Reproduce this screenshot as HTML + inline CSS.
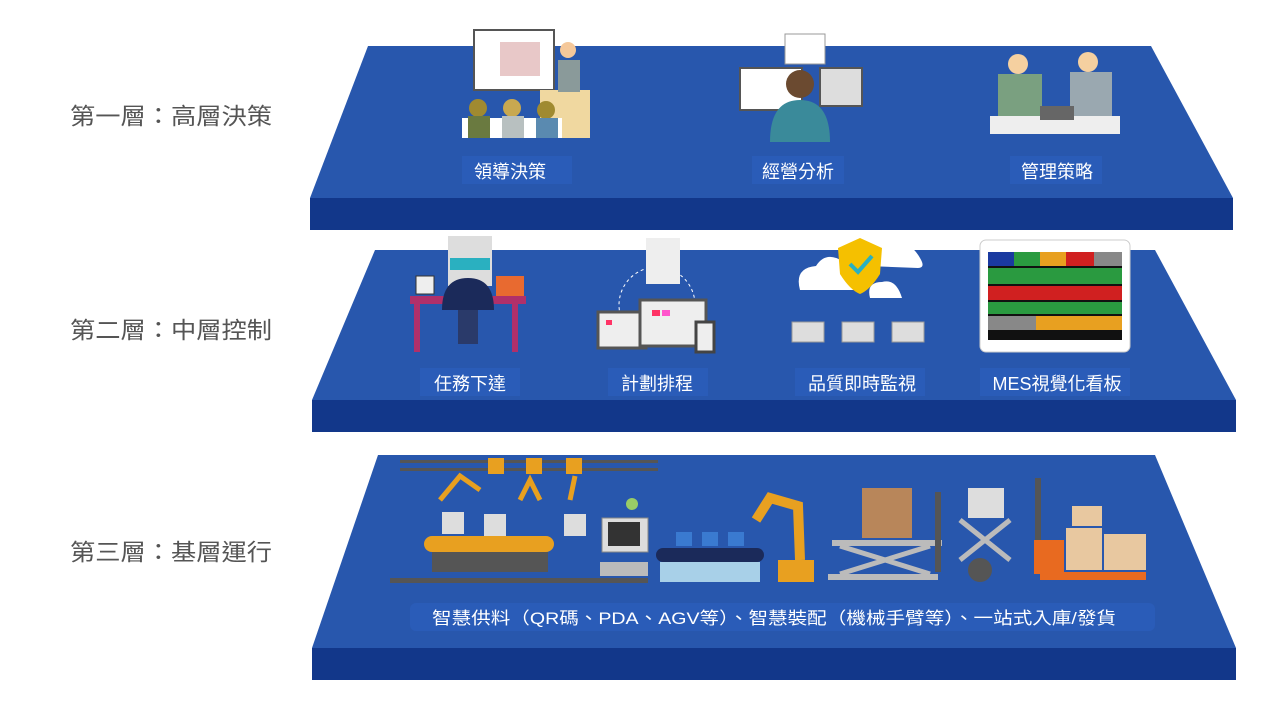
<!DOCTYPE html>
<html><head><meta charset="utf-8"><style>
body{margin:0;width:1280px;height:720px;background:#fff;overflow:hidden;font-family:"Liberation Sans","Noto Sans CJK TC",sans-serif}
</style></head><body>
<svg width="1280" height="720" xmlns="http://www.w3.org/2000/svg" font-family="Liberation Sans, Noto Sans CJK TC, sans-serif">
<g fill="#555" font-size="23">
<text x="70" y="124" textLength="202" lengthAdjust="spacingAndGlyphs">第一層：高層決策</text>
<text x="70" y="338" textLength="202" lengthAdjust="spacingAndGlyphs">第二層：中層控制</text>
<text x="70" y="560" textLength="202" lengthAdjust="spacingAndGlyphs">第三層：基層運行</text>
</g>
<polygon points="368,46 1151,46 1233,198 310,198" fill="#2857ad"/>
<rect x="310" y="198" width="923" height="32" fill="#12378a"/>
<polygon points="375,250 1155,250 1236,400 312,400" fill="#2857ad"/>
<rect x="312" y="400" width="924" height="32" fill="#12378a"/>
<polygon points="378,455 1155,455 1236,648 312,648" fill="#2857ad"/>
<rect x="312" y="648" width="924" height="32" fill="#12378a"/>

<g fill="#2a5cb8">
<rect x="462" y="156" width="110" height="28"/><rect x="752" y="156" width="92" height="28"/><rect x="1010" y="156" width="92" height="28"/>
<rect x="420" y="368" width="100" height="28"/><rect x="608" y="368" width="100" height="28"/><rect x="795" y="368" width="130" height="28"/><rect x="980" y="368" width="150" height="28"/>
<rect x="410" y="603" width="745" height="28" rx="6"/>
</g>
<g fill="#fff" font-size="18" text-anchor="middle">
<text x="510" y="178">領導決策</text><text x="798" y="178">經營分析</text><text x="1057" y="178">管理策略</text>
<text x="470" y="390">任務下達</text><text x="657" y="390">計劃排程</text><text x="862" y="390">品質即時監視</text><text x="1057" y="390">MES視覺化看板</text>
</g>
<text x="432" y="624" fill="#fff" font-size="17" textLength="684" lengthAdjust="spacingAndGlyphs">智慧供料（QR碼、PDA、AGV等）、智慧裝配（機械手臂等）、一站式入庫/發貨</text>

<rect x="474" y="30" width="80" height="60" fill="#fff" stroke="#555" stroke-width="2"/>
<rect x="500" y="42" width="40" height="34" fill="#e8c8c8"/>
<rect x="540" y="90" width="50" height="48" fill="#f0d8a0"/>
<circle cx="568" cy="50" r="8" fill="#f5c89a"/><rect x="558" y="60" width="22" height="32" fill="#8a9a9a"/>
<rect x="462" y="118" width="100" height="20" fill="#fff"/>
<circle cx="478" cy="108" r="9" fill="#a08a30"/><circle cx="512" cy="108" r="9" fill="#c8a850"/><circle cx="546" cy="110" r="9" fill="#a08a30"/>
<rect x="468" y="116" width="22" height="22" fill="#6a7a40"/><rect x="502" y="116" width="22" height="22" fill="#b8c0c0"/><rect x="536" y="118" width="22" height="20" fill="#5a8ab0"/>
<rect x="785" y="34" width="40" height="30" fill="#fff" stroke="#999"/>
<rect x="740" y="68" width="62" height="42" fill="#fff" stroke="#555" stroke-width="2"/>
<rect x="820" y="68" width="42" height="38" fill="#ddd" stroke="#555" stroke-width="2"/>
<circle cx="800" cy="84" r="14" fill="#6b4a30"/>
<path d="M770 142 Q770 100 800 100 Q830 100 830 142Z" fill="#3a8a9a"/>
<g><circle cx="1018" cy="64" r="10" fill="#f5d0a0"/><rect x="998" y="74" width="44" height="44" fill="#7aa080"/>
<circle cx="1088" cy="62" r="10" fill="#f5d0a0"/><rect x="1070" y="72" width="42" height="46" fill="#9aa8b0"/>
<rect x="990" y="116" width="130" height="18" fill="#eee"/><rect x="1040" y="106" width="34" height="14" fill="#666"/></g>

<rect x="410" y="296" width="116" height="8" fill="#b0306a"/>
<rect x="414" y="304" width="6" height="48" fill="#b0306a"/><rect x="512" y="304" width="6" height="48" fill="#b0306a"/>
<rect x="448" y="236" width="44" height="50" fill="#ddd"/><rect x="450" y="258" width="40" height="12" fill="#2ab0c0"/>
<path d="M442 310 Q442 278 468 278 Q494 278 494 310Z" fill="#1b2a5a"/>
<rect x="458" y="310" width="20" height="34" fill="#2a3a6a"/>
<rect x="416" y="276" width="18" height="18" fill="#eee" stroke="#333"/><rect x="496" y="276" width="28" height="20" fill="#e86a30"/>
<circle cx="657" cy="305" r="38" fill="none" stroke="#fff" stroke-dasharray="3 3"/>
<rect x="646" y="238" width="34" height="46" fill="#eee"/>
<rect x="598" y="312" width="48" height="36" fill="#eee" stroke="#555" stroke-width="3"/>
<rect x="640" y="300" width="66" height="46" fill="#eee" stroke="#555" stroke-width="3"/>
<rect x="696" y="322" width="18" height="30" fill="#eee" stroke="#444" stroke-width="3"/>
<g fill="#f36"><rect x="606" y="320" width="6" height="5"/><rect x="652" y="310" width="8" height="6"/></g>
<g fill="#f5c"><rect x="662" y="310" width="8" height="6"/></g>
<path d="M800 290 Q794 268 816 266 Q826 250 844 262 Q860 262 858 290Z" fill="#fff"/>
<path d="M868 266 Q868 240 892 244 Q910 240 920 258 Q926 268 918 268Z" fill="#fff"/>
<path d="M870 298 Q866 282 882 282 Q896 278 902 298Z" fill="#fff"/>
<path d="M838 248 L860 238 L882 248 L880 274 Q870 290 860 294 Q850 290 840 274Z" fill="#f5c000"/>
<path d="M850 264 L858 272 L872 256" stroke="#2ab0c0" stroke-width="4" fill="none"/>
<g fill="#ddd" stroke="#999"><rect x="792" y="322" width="32" height="20"/><rect x="842" y="322" width="32" height="20"/><rect x="892" y="322" width="32" height="20"/></g>
<rect x="980" y="240" width="150" height="112" rx="6" fill="#fff" stroke="#ccc"/>
<rect x="988" y="252" width="134" height="88" fill="#111"/>
<g><rect x="988" y="252" width="26" height="14" fill="#1a3aa0"/><rect x="1014" y="252" width="26" height="14" fill="#2a9a40"/><rect x="1040" y="252" width="26" height="14" fill="#e8a020"/><rect x="1066" y="252" width="28" height="14" fill="#d02020"/><rect x="1094" y="252" width="28" height="14" fill="#888"/></g>
<rect x="988" y="268" width="134" height="16" fill="#2a9a40"/><rect x="988" y="286" width="134" height="14" fill="#d02020"/><rect x="988" y="302" width="134" height="12" fill="#2a9a40"/><rect x="988" y="316" width="134" height="14" fill="#e8a020"/>
<rect x="988" y="316" width="48" height="14" fill="#888"/>

<rect x="400" y="460" width="258" height="3" fill="#555"/><rect x="400" y="468" width="258" height="3" fill="#555"/>
<g fill="#e8a020"><rect x="488" y="458" width="16" height="16"/><rect x="526" y="458" width="16" height="16"/><rect x="566" y="458" width="16" height="16"/></g>
<path d="M440 500 L460 476 L480 490 M520 500 L530 480 L540 500 M570 500 L575 476" stroke="#e8a020" stroke-width="5" fill="none"/>
<rect x="424" y="536" width="130" height="16" rx="8" fill="#e8a020"/>
<rect x="432" y="552" width="116" height="20" fill="#555"/>
<rect x="390" y="578" width="258" height="5" fill="#555"/>
<rect x="442" y="512" width="22" height="22" fill="#ddd"/><rect x="484" y="514" width="22" height="22" fill="#ddd"/><rect x="564" y="514" width="22" height="22" fill="#ddd"/>
<rect x="602" y="518" width="46" height="34" fill="#ddd" stroke="#888"/><rect x="608" y="522" width="32" height="24" fill="#333"/>
<rect x="600" y="562" width="48" height="14" fill="#bbb"/><circle cx="632" cy="504" r="6" fill="#9c6"/>
<rect x="656" y="548" width="108" height="14" rx="7" fill="#1b2a5a"/>
<g fill="#3a7ad0"><rect x="676" y="532" width="16" height="14"/><rect x="702" y="532" width="16" height="14"/><rect x="728" y="532" width="16" height="14"/></g>
<rect x="660" y="562" width="100" height="20" fill="#a8d0e8"/>
<path d="M756 520 L770 498 L798 506 L800 560" stroke="#e8a020" stroke-width="10" fill="none"/>
<rect x="778" y="560" width="36" height="22" fill="#e8a020"/>
<rect x="862" y="488" width="50" height="50" fill="#b8865a"/>
<rect x="832" y="540" width="110" height="6" fill="#bbb"/><path d="M840 546 L930 574 M930 546 L840 574" stroke="#bbb" stroke-width="5"/>
<rect x="828" y="574" width="110" height="6" fill="#bbb"/>
<rect x="935" y="492" width="6" height="80" fill="#555"/>
<rect x="968" y="488" width="36" height="30" fill="#ddd"/><path d="M960 520 L1010 560 M1010 520 L960 560" stroke="#bbb" stroke-width="5"/>
<circle cx="980" cy="570" r="12" fill="#555"/>
<rect x="1035" y="478" width="6" height="90" fill="#555"/>
<rect x="1034" y="540" width="30" height="34" fill="#e86a20"/><rect x="1040" y="572" width="106" height="8" fill="#e86a20"/>
<g fill="#e8c8a0"><rect x="1072" y="506" width="30" height="20"/><rect x="1066" y="528" width="36" height="42"/><rect x="1104" y="534" width="42" height="36"/></g>
</svg>
</body></html>
